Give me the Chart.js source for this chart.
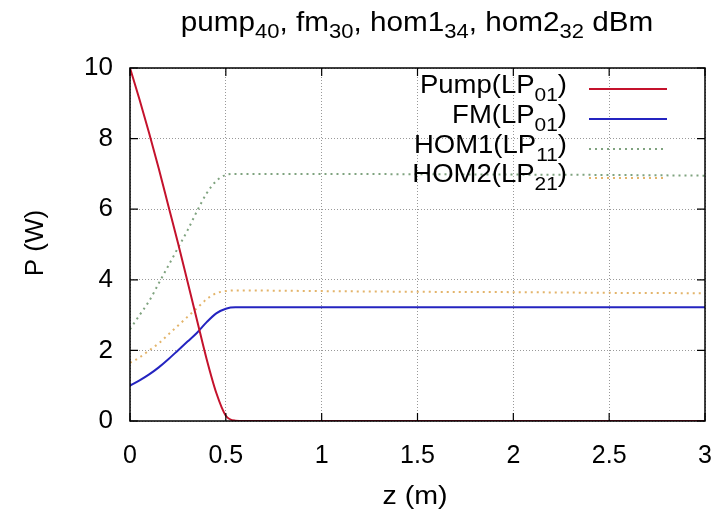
<!DOCTYPE html>
<html>
<head>
<meta charset="utf-8">
<script src="https://cdn.jsdelivr.net/npm/chart.js@4.4.1/dist/chart.umd.min.js"></script>
<style>
  html, body { margin: 0; padding: 0; background: #fff; }
  #wrap { width: 716px; height: 512px; }
</style>
</head>
<body>
<div id="wrap"><canvas id="myChart" width="716" height="512"></canvas></div>
<script>
// z positions (m)
const zValues = [0, 0.05, 0.1, 0.15, 0.2, 0.25, 0.3, 0.35, 0.4, 0.45, 0.5, 0.55, 0.6, 0.8, 1, 1.5, 2, 2.5, 3];

// power values (W)
const pumpValues = [10, 9.1, 8.15, 7.15, 6.1, 5.05, 3.95, 2.85, 1.75, 0.8, 0.15, 0.01, 0, 0, 0, 0, 0, 0, 0];
const fmValues   = [1.0, 1.15, 1.32, 1.52, 1.75, 2.0, 2.25, 2.5, 2.8, 3.05, 3.18, 3.22, 3.22, 3.22, 3.22, 3.22, 3.22, 3.22, 3.22];
const hom1Values = [2.6, 3.0, 3.4, 3.9, 4.4, 4.9, 5.4, 5.95, 6.45, 6.8, 6.97, 7.0, 7.0, 7.0, 7.0, 6.99, 6.98, 6.97, 6.95];
const hom2Values = [1.65, 1.8, 2.0, 2.2, 2.45, 2.7, 2.95, 3.2, 3.45, 3.62, 3.68, 3.7, 3.7, 3.69, 3.68, 3.66, 3.65, 3.63, 3.62];

const xTicks = [0, 0.5, 1, 1.5, 2, 2.5, 3];
const yTicks = [0, 2, 4, 6, 8, 10];

// labels with _{..} for subscripts
const seriesLabels = ["Pump(LP_{01})", "FM(LP_{01})", "HOM1(LP_{11})", "HOM2(LP_{21})"];
const titleText = "pump_{40}, fm_{30}, hom1_{34}, hom2_{32} dBm";

const FONT = "'Liberation Sans', Arial, Helvetica, sans-serif";
const STRETCH = 1.1; // the original text is a bit wide

function toPoints(ys) {
  return zValues.map((z, i) => ({ x: z, y: ys[i] }));
}

// split "abc_{12}def" into parts
function parseRich(str) {
  const parts = [];
  const re = /_\{([^}]*)\}/g;
  let last = 0, m;
  while ((m = re.exec(str)) !== null) {
    if (m.index > last) parts.push({ t: str.slice(last, m.index), sub: false });
    parts.push({ t: m[1], sub: true });
    last = re.lastIndex;
  }
  if (last < str.length) parts.push({ t: str.slice(last), sub: false });
  return parts;
}

function drawRich(ctx, str, x, y, size, subSize, subDrop, align) {
  const parts = parseRich(str);
  let w = 0;
  for (const p of parts) {
    ctx.font = (p.sub ? subSize : size) + "px " + FONT;
    w += ctx.measureText(p.t).width;
  }
  w *= STRETCH;
  let cx = x;
  if (align === "center") cx = x - w / 2;
  if (align === "right") cx = x - w;
  ctx.save();
  ctx.translate(cx, y);
  ctx.scale(STRETCH, 1);
  ctx.textAlign = "left";
  ctx.textBaseline = "alphabetic";
  let px = 0;
  for (const p of parts) {
    ctx.font = (p.sub ? subSize : size) + "px " + FONT;
    ctx.fillText(p.t, px, p.sub ? subDrop : 0);
    px += ctx.measureText(p.t).width;
  }
  ctx.restore();
}

const gnuplotLook = {
  id: "gnuplotLook",
  afterDraw(chart) {
    const ctx = chart.ctx;
    const a = chart.chartArea;
    const xs = chart.scales.x;
    const ys = chart.scales.y;
    ctx.save();
    ctx.fillStyle = "#000";

    // border
    ctx.strokeStyle = "#000";
    ctx.lineWidth = 1.5;
    ctx.strokeRect(a.left, a.top, a.right - a.left, a.bottom - a.top);

    // inward tick marks, mirrored
    ctx.lineWidth = 1.2;
    ctx.beginPath();
    for (const v of xTicks) {
      const px = xs.getPixelForValue(v);
      ctx.moveTo(px, a.bottom); ctx.lineTo(px, a.bottom - 8);
      ctx.moveTo(px, a.top); ctx.lineTo(px, a.top + 8);
    }
    for (const v of yTicks) {
      const py = ys.getPixelForValue(v);
      ctx.moveTo(a.left, py); ctx.lineTo(a.left + 8, py);
      ctx.moveTo(a.right, py); ctx.lineTo(a.right - 8, py);
    }
    ctx.stroke();

    // title
    drawRich(ctx, titleText, 417, 31, 27, 20, 7, "center");

    // axis titles
    drawRich(ctx, "z (m)", 415, 504, 26, 20, 0, "center");
    ctx.save();
    ctx.translate(43, 243);
    ctx.rotate(-Math.PI / 2);
    ctx.font = "26px " + FONT;
    ctx.textAlign = "center";
    ctx.textBaseline = "alphabetic";
    ctx.fillText("P (W)", 0, 0);
    ctx.restore();

    // legend
    const rows = [89, 119, 149, 178];
    chart.data.datasets.forEach((ds, i) => {
      const ly = rows[i];
      drawRich(ctx, seriesLabels[i], 567, ly + 4, 25, 19, 8, "right");
      ctx.strokeStyle = ds.borderColor;
      ctx.lineWidth = ds.borderWidth;
      ctx.setLineDash(ds.borderDash || []);
      ctx.beginPath();
      ctx.moveTo(589, ly);
      ctx.lineTo(667, ly);
      ctx.stroke();
      ctx.setLineDash([]);
    });
    ctx.restore();
  }
};

new Chart("myChart", {
  type: "line",
  data: {
    datasets: [
      {
        label: seriesLabels[0],
        data: toPoints(pumpValues),
        borderColor: "#c4122c",
        borderWidth: 2,
        pointRadius: 0,
        fill: false,
        cubicInterpolationMode: "monotone",
      },
      {
        label: seriesLabels[1],
        data: toPoints(fmValues),
        borderColor: "#2424c0",
        borderWidth: 2,
        pointRadius: 0,
        fill: false,
        cubicInterpolationMode: "monotone",
      },
      {
        label: seriesLabels[2],
        data: toPoints(hom1Values),
        borderColor: "#7fa37f",
        borderWidth: 2,
        borderDash: [2, 4],
        pointRadius: 0,
        fill: false,
        cubicInterpolationMode: "monotone",
      },
      {
        label: seriesLabels[3],
        data: toPoints(hom2Values),
        borderColor: "#e3b46a",
        borderWidth: 2,
        borderDash: [2, 4],
        pointRadius: 0,
        fill: false,
        cubicInterpolationMode: "monotone",
      },
    ],
  },
  options: {
    responsive: false,
    animation: false,
    layout: { padding: { top: 68, right: 11, left: 0, bottom: 0 } },
    plugins: {
      legend: { display: false },
      title: { display: false },
      tooltip: { enabled: false },
    },
    scales: {
      x: {
        type: "linear",
        min: 0,
        max: 3,
        afterBuildTicks: (s) => { s.ticks = xTicks.map((v) => ({ value: v })); },
        afterFit: (s) => { s.height = 91; s.paddingLeft = 0; s.paddingRight = 0; },
        grid: { color: "#999", lineWidth: 1, drawTicks: false },
        border: { display: false, dash: [1, 2] },
        ticks: {
          color: "#000",
          font: { family: FONT, size: 25 },
          padding: 20,
          maxRotation: 0,
          callback: (v) => String(v),
        },
      },
      y: {
        min: 0,
        max: 10,
        afterBuildTicks: (s) => { s.ticks = yTicks.map((v) => ({ value: v })); },
        afterFit: (s) => { s.width = 130; s.paddingTop = 0; s.paddingBottom = 0; },
        grid: { color: "#999", lineWidth: 1, drawTicks: false },
        border: { display: false, dash: [1, 2] },
        ticks: {
          color: "#000",
          font: { family: FONT, size: 26 },
          padding: 17,
          callback: (v) => String(v),
        },
      },
    },
  },
  plugins: [gnuplotLook],
});
</script>
</body>
</html>
